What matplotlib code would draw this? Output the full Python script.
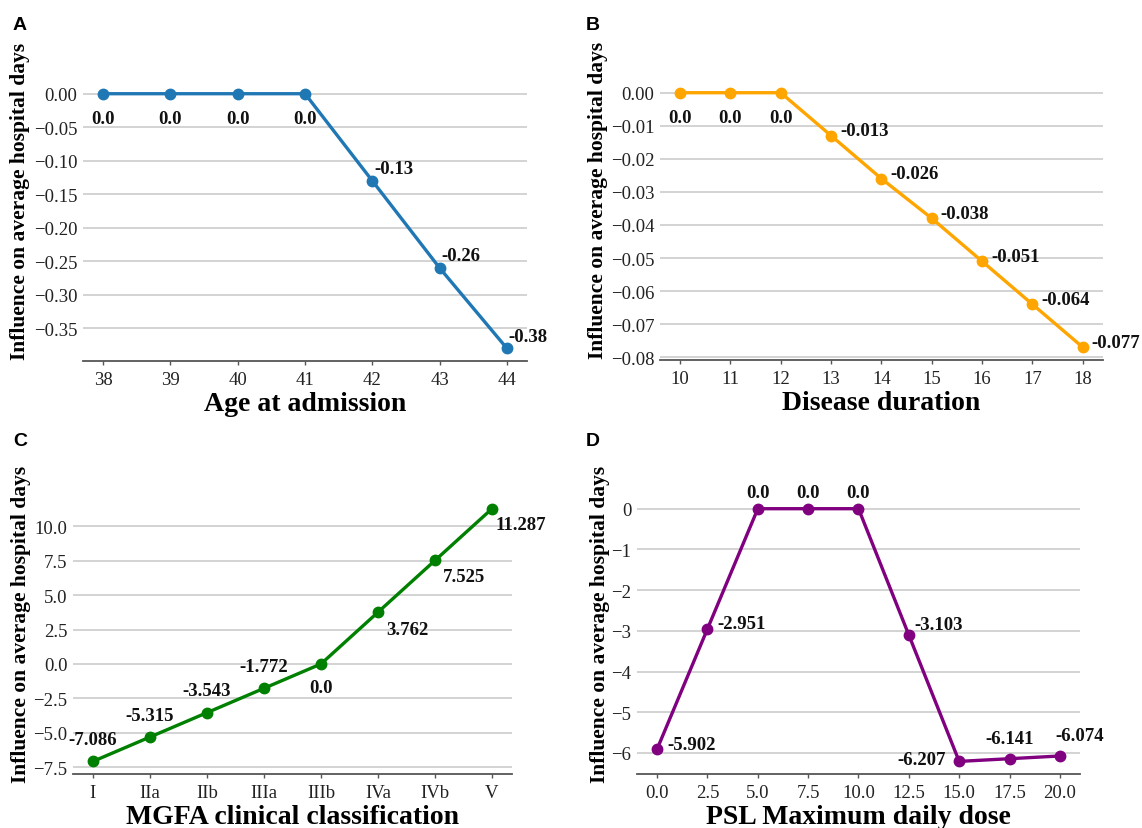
import matplotlib
matplotlib.use("Agg")
import matplotlib.pyplot as plt
from matplotlib.ticker import MultipleLocator, FuncFormatter

plt.rcParams['font.family'] = ['Liberation Serif', 'DejaVu Serif']
plt.rcParams['axes.unicode_minus'] = True

# ---- data ----
age = [38, 39, 40, 41, 42, 43, 44]
age_effect = [0.0, 0.0, 0.0, 0.0, -0.13, -0.26, -0.38]

duration = [10, 11, 12, 13, 14, 15, 16, 17, 18]
duration_effect = [0.0, 0.0, 0.0, -0.013, -0.026, -0.038, -0.051, -0.064, -0.077]

mgfa_classes = ['I', 'IIa', 'IIb', 'IIIa', 'IIIb', 'IVa', 'IVb', 'V']
mgfa_effect = [-7.086, -5.315, -3.543, -1.772, 0.0, 3.762, 7.525, 11.287]

psl_dose = [0.0, 2.5, 5.0, 7.5, 10.0, 12.5, 15.0, 17.5, 20.0]
psl_effect = [-5.902, -2.951, 0.0, 0.0, 0.0, -3.103, -6.207, -6.141, -6.074]

YLABEL = 'Influence on average hospital days'

fig = plt.figure(figsize=(11.42, 8.29), dpi=100)

# axes rectangles (left, bottom, width, height) in figure fractions
rects = {
    'A': [0.0727, 0.5633, 0.3888, 0.3378],
    'B': [0.5779, 0.5645, 0.3879, 0.3378],
    'C': [0.0639, 0.0651, 0.3844, 0.3353],
    'D': [0.5578, 0.0651, 0.3879, 0.3353],
}


def fmt(spec):
    # format with a proper minus sign
    return FuncFormatter(lambda v, pos: format(v, spec).replace('-', '\u2212')
                         if abs(v) > 1e-12 else format(0.0, spec))


def style_axes(ax):
    for side in ['top', 'right', 'left']:
        ax.spines[side].set_visible(False)
    ax.spines['bottom'].set_color('#555555')
    ax.spines['bottom'].set_linewidth(1.3)
    ax.yaxis.grid(True, color='#cccccc', linewidth=1.2)
    ax.set_axisbelow(True)
    ax.tick_params(axis='y', length=0, pad=4, labelsize=13.5, colors='#222222')
    ax.tick_params(axis='x', length=3, width=1, color='#555555', pad=4,
                   labelsize=13.5, labelcolor='#222222')


def draw_panel(key, x, y, color, xlabel, offsets, ylab_x, ylab_y):
    ax = fig.add_axes(rects[key])
    ax.plot(x, y, color=color, lw=2.4, marker='o', ms=7.5, zorder=3)
    for xi, yi, (dx, dy, ha) in zip(x, y, offsets):
        ax.annotate(str(yi), (xi, yi), xytext=(dx * 0.72, dy * 0.72),
                    textcoords='offset points', ha=ha, va='center',
                    fontsize=13.5, fontweight='bold', color='#111111')
    style_axes(ax)
    ax.set_xlabel(xlabel, fontsize=20, fontweight='bold', labelpad=2)
    ax.set_ylabel(YLABEL, fontsize=15.5, fontweight='bold')
    ax.yaxis.set_label_coords(ylab_x, ylab_y)
    return ax


# annotation offsets in pixels (dx, dy, ha)
off_a = [(0, -25, 'center')] * 4 + [(2, 12, 'left')] * 3
off_b = [(0, -25, 'center')] * 3 + [(9, 5, 'left')] * 6
off_c = [(0, 22, 'center')] * 4 + [(0, -24, 'center'), (8, -17, 'left'),
                                   (8, -16, 'left'), (3, -16, 'left')]
off_d = [(10, 4, 'left'), (10, 5, 'left'), (0, 16, 'center'), (0, 16, 'center'),
         (0, 16, 'center'), (6, 11, 'left'), (-13, 2, 'right'),
         (0, 20, 'center'), (20, 20, 'center')]

ax_a = draw_panel('A', age, age_effect, '#1f77b4', 'Age at admission',
                  off_a, -0.12, 0.575)
ax_a.yaxis.set_major_locator(MultipleLocator(0.05))
ax_a.yaxis.set_major_formatter(fmt('.2f'))
ax_a.xaxis.set_major_locator(MultipleLocator(1))

ax_b = draw_panel('B', duration, duration_effect, '#ffa500', 'Disease duration',
                  off_b, -0.118, 0.575)
ax_b.yaxis.set_major_locator(MultipleLocator(0.01))
ax_b.yaxis.set_major_formatter(fmt('.2f'))
ax_b.xaxis.set_major_locator(MultipleLocator(1))

ax_c = draw_panel('C', range(len(mgfa_classes)), mgfa_effect, '#008000',
                  'MGFA clinical classification', off_c, -0.095, 0.54)
ax_c.set_xticks(range(len(mgfa_classes)))
ax_c.set_xticklabels(mgfa_classes)
ax_c.yaxis.set_major_locator(MultipleLocator(2.5))
ax_c.yaxis.set_major_formatter(fmt('.1f'))

ax_d = draw_panel('D', psl_dose, psl_effect, '#800080', 'PSL Maximum daily dose',
                  off_d, -0.062, 0.54)
ax_d.yaxis.set_major_locator(MultipleLocator(1))
ax_d.yaxis.set_major_formatter(fmt('.0f'))
ax_d.xaxis.set_major_locator(MultipleLocator(2.5))
ax_d.xaxis.set_major_formatter(fmt('.1f'))

# panel letters
for letter, (fx, fy) in {'A': (20, 26), 'B': (593, 26),
                         'C': (20, 442), 'D': (593, 442)}.items():
    fig.text(fx / 1142, 1 - fy / 829, letter, fontsize=14, fontweight='bold',
             family=['Liberation Sans', 'DejaVu Sans'], ha='center', va='center')

fig.savefig('out.png', dpi=100)
